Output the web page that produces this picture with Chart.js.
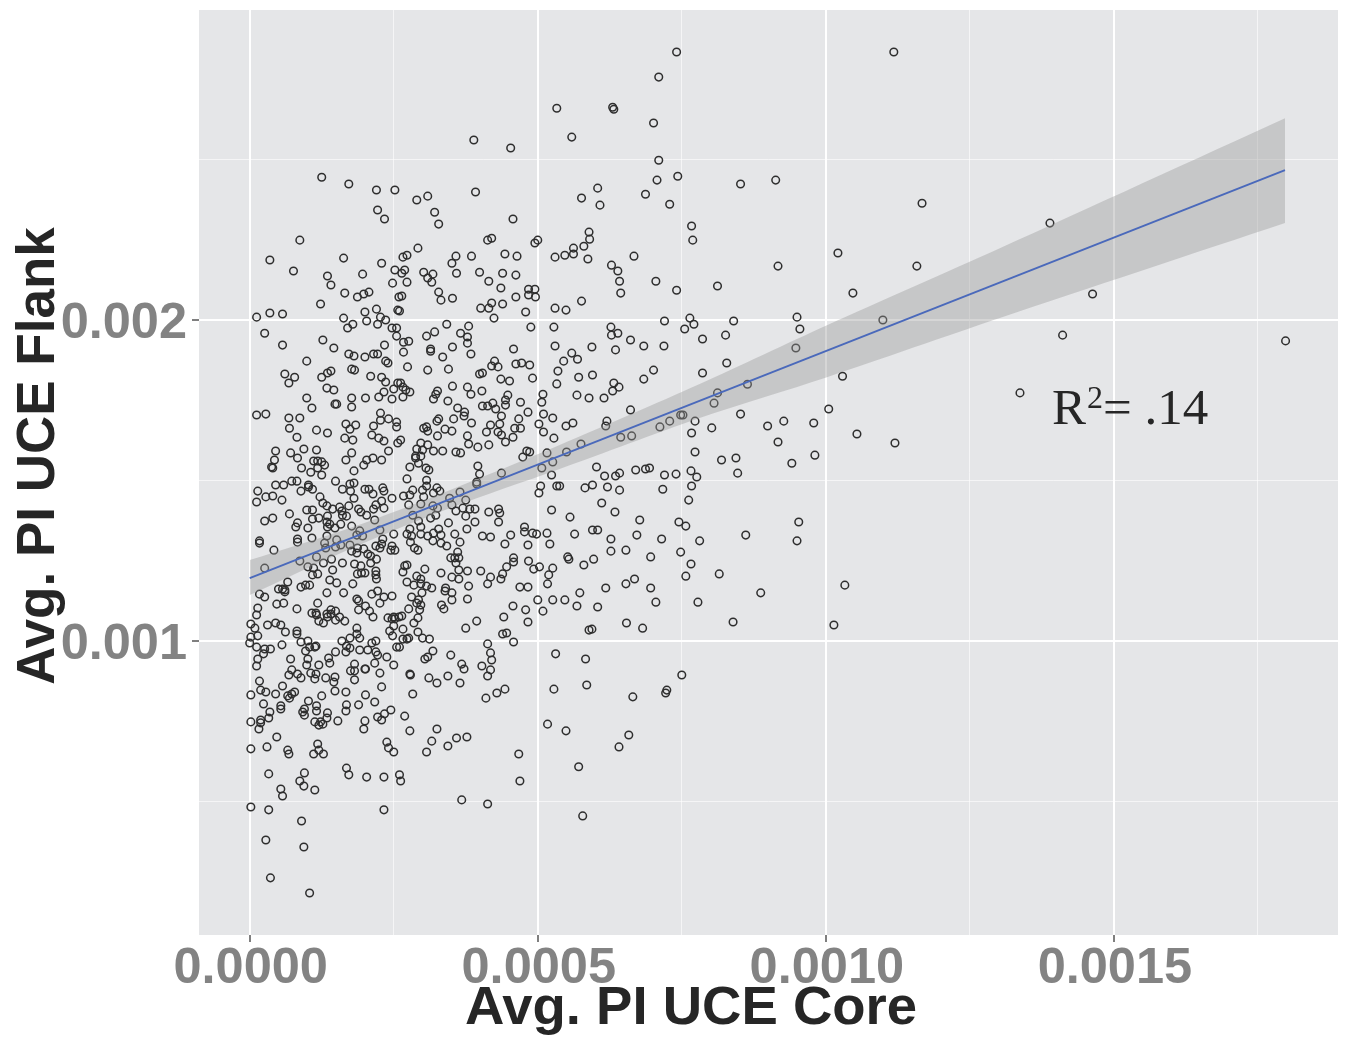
<!DOCTYPE html>
<html lang="en">
<head>
<meta charset="UTF-8">
<title>Avg. PI UCE Core vs Flank</title>
<script src="https://cdn.jsdelivr.net/npm/chart.js@4/dist/chart.umd.min.js"></script>
<style>
    body { margin: 0; padding: 0; background: #fff; }
    #chartBox { position: relative; width: 1345px; height: 1038px; }
</style>
</head>
<body>
<div id="chartBox"><canvas id="scatter" width="1345" height="1038"></canvas></div>
<script>
// All PI values below are in units of 1e-6
const xMajorTicks = [0, 500, 1000, 1500];
const xMinorTicks = [250, 750, 1250, 1750];
const xTickLabels = ['0.0000', '0.0005', '0.0010', '0.0015'];
const yMajorTicks = [1000, 2000];
const yMinorTicks = [500, 1500, 2500];
const yTickLabels = ['0.001', '0.002'];

// upper left
const coreA = [125,172,220,252,222,234,87,35,163,76,
    135,141,229,196,252,248,165,187,198,207,
    123,12,35,57,163,200,203,220,227,236,
    222,179,170,247,257,255,26,57,127,146,
    234,255,259];
const flankA = [2445,2424,2405,2405,2343,2315,2249,2187,2193,2153,
    2137,2109,2177,2143,2156,2115,2084,2072,2081,2087,
    2050,2009,2022,2019,2006,2025,1997,2034,2009,2000,
    1987,1987,1975,1975,2031,1950,1959,1922,1938,1913,
    1922,1975,2072];

// left, just above the fit line
const coreB = [99,172,181,200,215,222,236,240,
    61,78,68,125,135,141,177,182,210,229,236,
    134,146,250,257,233,224,247,201,177,99,148,151,177,108,
    12,28,68,87,227,227,241,255,255,167,184,174,215,69,116,135,82,165,179,212,224,233,257,241,
    45,94,116,71,83,43,177,167,229,214,203,198,111,118,125,130,38,40,90,118,106,125,181,
    149,73,82,45,59,14,102,102,109,89,181,174,161,175,200,207,214,231,233,247,181,
    40,28,56,12,122,127,134,229,219,215,233,172,156,144,160,189,193,203,99,109,69,161,168,135,120,109,217,40,26,
    134,83,139,80,101,135,148,158,177,191,226,250,134,108,83,186,196,231,17,151];
const flankB = [1872,1894,1888,1885,1894,1894,1872,1866,
    1832,1822,1804,1822,1835,1841,1847,1844,1825,1822,1807,
    1788,1782,1785,1804,1776,1760,1754,1757,1757,1757,1738,1738,1729,1726,
    1704,1707,1695,1695,1710,1688,1692,1682,1667,1676,1673,1660,1670,1663,1657,1648,1635,1632,1626,1642,1632,1623,1617,1592,
    1592,1598,1595,1586,1570,1564,1586,1564,1564,1570,1564,1548,1561,1561,1558,1548,1542,1539,1539,1539,1526,1517,1530,
    1498,1498,1498,1486,1486,1467,1486,1480,1473,1467,1492,1489,1473,1467,1473,1473,1458,1477,1467,1445,1445,
    1452,1449,1439,1433,1449,1430,1421,1436,1424,1411,1414,1421,1417,1411,1405,1411,1402,1392,1408,1408,1396,1392,1389,1389,1383,1380,1377,1383,1374,
    1371,1368,1364,1355,1352,1355,1352,1364,1358,1343,1346,1333,1327,1321,1318,1330,1327,1318,1312,1315];

// left, below the fit line
const coreC = [17,42,83,130,132,149,158,174,177,186,187,198,205,210,219,226,229,247,245,252,
    116,87,128,142,161,182,193,210,220,26,101,111,144,219,219,220,200,194,187,118,109,
    66,139,151,179,50,57,61,61,89,97,104,222,134,163,212,233,247,17,26,186,189,
    118,47,59,226,201,14,82,189,208,141,149,108,115,116,134,141,12,214,240,250,247,252,259,
    120,135,156,149,165,128,45,31,54,2,9,62,186,250,243,82,82,186,191,248,2,14,
    0,101,89,160,174,219,212,12,56,115,113,104,168,174,36,26,24,255,97,149,167,191,205,219,222,238,
    14,71,101,137,139,12,99,120,182,217,250,73,175,182,200,201,226,68,83,89,106,115,113,132,148,146,182,
    17,57,229,19,28,148,167,2,45,78,73,66,69,125,201,217,24,102,168,189,54,54,116,116,167,245,
    95,92,95,35,135,234,222,134,33,19,19,2,229,153,200,113,123,127,120,16,198];
const flankC = [1305,1283,1308,1305,1290,1293,1299,1299,1280,1274,1290,1287,1271,1265,1296,1290,1302,1296,1283,1283,
    1262,1249,1243,1255,1243,1240,1234,1243,1255,1227,1231,1227,1221,1218,1206,1193,1212,1212,1209,1209,1206,
    1184,1190,1181,1178,1162,1162,1159,1153,1168,1174,1174,1156,1150,1150,1146,1137,1140,1146,1137,1131,1125,
    1118,1115,1118,1118,1109,1103,1100,1097,1093,1097,1093,1087,1087,1081,1084,1084,1081,1075,1072,1075,1069,1069,1075,
    1062,1075,1075,1065,1062,1056,1056,1050,1050,1053,1040,1028,1040,1047,1031,1031,1022,1022,1009,1016,1012,1016,
    994,1000,997,1000,1009,1000,994,981,988,984,981,981,984,978,975,975,960,981,969,966,966,972,972,966,956,950,
    944,944,944,947,931,922,925,925,928,931,925,910,907,907,913,913,900,894,897,885,900,897,882,885,888,872,879,
    875,860,857,847,841,844,841,832,835,841,835,829,822,829,832,810,804,813,801,801,798,788,798,782,782,785,
    788,779,769,779,776,773,763,760,760,754,745,748,754,751,751,748,748,741,738,726,726];

// middle, around the fit line
const coreD = [267,314,335,384,274,309,345,425,420,431,462,472,486,491,399,404,436,451,535,533,
    262,266,271,278,266,352,378,384,403,326,323,319,344,448,444,444,470,509,507,
    361,373,372,404,413,422,427,483,510,437,526,467,328,325,354,385,418,434,502,
    307,302,309,339,351,460,470,411,431,437,510,378,326,457,444,528,262,297,309,380,396,415,
    290,300,319,335,358,366,481,486,474,516,288,297,288,526,293,396,278,306,311,507,
    399,437,524,273,307,394,394,505,533,307,283,300,325,319,330,365,502,267,278,302,347,375,
    276,297,318,351,326,370,382,391,358,432,434,415,524,283,323,314,375,293,391,432,345,
    297,278,328,377,477,477,273,281,297,309,319,332,356,404,418,453,491,498,516];
const flankD = [1900,1903,1885,1894,1854,1844,1847,1872,1857,1854,1863,1866,1860,1819,1832,1835,1816,1810,1841,1801,
    1804,1791,1782,1776,1760,1794,1791,1769,1779,1779,1769,1754,1748,1766,1751,1735,1744,1769,1744,
    1726,1713,1701,1732,1732,1741,1723,1713,1707,1701,1695,1692,1692,1685,1692,1679,1673,1676,1676,
    1667,1663,1654,1660,1654,1663,1663,1651,1651,1642,1651,1639,1639,1635,1620,1632,1626,1617,1611,1614,1604,1611,
    1598,1595,1592,1592,1589,1586,1592,1589,1573,1586,1576,1576,1570,1558,1554,1545,1542,1539,1533,1539,
    1520,1523,1517,1505,1501,1495,1489,1483,1483,1483,1470,1470,1477,1461,1467,1464,1461,1452,1455,1449,1445,1439,
    1424,1427,1421,1424,1414,1414,1411,1411,1405,1411,1399,1402,1408,1392,1392,1383,1389,1374,1371,1371,1368,
    1355,1349,1349,1349,1355,1340,1333,1327,1333,1327,1336,1330,1333,1327,1324,1330,1336,1333,1336];

// middle, below the fit line
const coreE = [279,286,292,318,332,342,365,443,483,521,361,349,356,363,358,458,458,484,446,503,493,526,
    273,269,266,304,332,363,378,401,439,519,290,297,351,363,418,436,413,517,273,285,297,307,316,380,469,483,340,339,351,299,
    281,351,378,500,526,293,290,297,333,337,457,479,509,276,295,264,441,292,285,394,483,375,266,292,446,439,
    276,266,273,300,312,458,413,260,318,349,418,531,309,304,420,368,372,403,418,278,279,344,413,311,325,365,
    443,429,410,528,283,269,517,325,278];
const flankE = [1308,1290,1283,1312,1305,1296,1308,1302,1299,1302,1277,1259,1259,1259,1243,1259,1246,1249,1231,1231,1224,1227,
    1237,1234,1215,1224,1212,1221,1218,1218,1209,1206,1202,1193,1199,1193,1199,1193,1178,1178,1184,1174,1178,1171,1165,1171,1168,1168,1165,1156,1150,1150,
    1137,1128,1131,1128,1128,1128,1118,1112,1112,1100,1109,1097,1093,1100,1097,1078,1075,1072,1056,1062,1059,1040,1037,1028,1025,1022,
    1009,1006,1006,1009,1006,997,991,981,969,956,963,960,950,944,941,928,913,922,910,897,894,891,891,885,869,869,
    850,838,822,850,835,766,741,726,720];

// upper middle
const coreF = [392,309,290,321,328,457,420,413,500,495,292,273,266,358,351,385,443,464,530,
    269,264,302,318,309,316,359,399,439,462,273,415,436,328,332,352,484,495,484,496,462,264,
    420,439,401,415,260,479,530,424,342,380,488,528,321,366,378,307,378,276,267,530,352,314,458,
    389,453,533,559,630,632];
const flankF = [2399,2386,2374,2336,2299,2315,2255,2249,2249,2240,2224,2202,2196,2199,2177,2199,2206,2199,2196,
    2156,2146,2149,2143,2131,2118,2146,2149,2146,2140,2118,2121,2100,2087,2062,2068,2096,2096,2078,2072,2072,2075,
    2053,2050,2037,2037,2028,2025,2037,2006,1987,1981,1978,1978,1963,1959,1947,1950,1928,1934,1931,1919,1916,1910,1910,
    2561,2536,2660,2570,2663,2657];

// centre right, band region
const coreG = [559,545,569,701,786,571,595,684,632,641,630,568,589,615,812,806,661,773,748,752,729,712,802,767,
    561,549,620,618,644,663,575,550,773,602,616,635,642,670,687,694,720,740,766,776,767,595,582,621,642,717,762,
    611,634,556,677,745,757,564,595,604,672,627,715,781,538];
const flankG = [1897,1872,1878,1844,1835,1822,1829,1816,1804,1791,1779,1766,1757,1757,1773,1741,1720,1685,1704,1704,1685,1667,1664,1648,
    1679,1670,1685,1670,1635,1639,1614,1589,1589,1542,1514,1514,1523,1533,1536,1539,1517,1520,1530,1511,1483,1486,1477,1480,1470,1473,1439,
    1430,1402,1386,1377,1371,1358,1333,1346,1346,1330,1318,1318,1312,1483];

// bottom left
const coreH = [47,2,30,66,68,118,111,120,128,238,241,250,316,307,344,359,377,
    33,95,87,94,113,54,57,168,172,203,233,260,262,2,33,233,368,90,28,94,36,104,
    413,467,469,549,571,578,583,585,641,658,665,724,722,750];
const flankH = [701,664,670,660,648,679,648,660,648,685,667,654,688,654,673,698,701,
    586,589,564,548,536,539,517,604,583,576,576,583,564,483,474,474,505,439,380,358,262,215,
    492,648,564,720,608,455,944,863,670,707,826,847,838,894];

// upper right of the cloud
const coreI = [743,707,604,576,608,687,729,767,769,589,590,580,562,562,547,587,667,628,639,642,644,705,741,812,
    576,549,720,764,771,755,786,627,639,628,661,684,719,594,635,741,710,701,710,
    627,653,748,552,554,597,580,696,766,757,815,668,653,618,696,573,547,568,604,705,778,654,682,594,589];
const flankI = [2448,2436,2411,2380,2358,2392,2361,2293,2249,2274,2252,2230,2224,2206,2202,2190,2199,2171,2153,2121,2084,2121,2093,2106,
    2059,2031,1997,2006,1987,1972,1941,1978,1959,1953,1938,1919,1919,1916,1907,2835,2757,2614,2498,
    1280,1283,1277,1262,1255,1255,1237,1262,1240,1202,1209,1193,1178,1165,1165,1150,1128,1109,1106,1121,1121,1056,1040,1037,1034];

// sparse points on the far right
const coreJ = [1118,913,852,1167,1389,1021,1158,917,1047,1463,1099,950,955,948,1411,1798,840,826,828,864,1029,
    1337,1005,852,899,927,979,1054,1120,917,981,941,819,844,847,953,950,861,887,1033,839,1014];
const flankJ = [2835,2436,2424,2364,2302,2209,2168,2168,2084,2081,2000,2009,1972,1913,1953,1935,1997,1953,1866,1800,1825,
    1773,1723,1707,1670,1685,1679,1645,1617,1620,1579,1554,1564,1570,1523,1371,1312,1330,1150,1174,1059,1050];

// fit line and its confidence band
const fitCore = [0, 1797];
const fitFlank = [1196, 2467];
const bandCore = [0, 174, 347, 538, 781, 1002, 1302, 1797];
const bandUpper = [1252, 1352, 1470, 1611, 1801, 1984, 2224, 2629];
const bandLower = [1143, 1287, 1414, 1536, 1695, 1822, 2006, 2302];

const coreValues = [...coreA, ...coreB, ...coreC, ...coreD, ...coreE, ...coreF, ...coreG, ...coreH, ...coreI, ...coreJ];
const flankValues = [...flankA, ...flankB, ...flankC, ...flankD, ...flankE, ...flankF, ...flankG, ...flankH, ...flankI, ...flankJ];

const pair = (xs, ys) => xs.map((x, i) => ({ x: x, y: ys[i] }));

// panel background
const panelBackground = {
    id: 'panelBackground',
    beforeDraw(chart) {
        const a = chart.chartArea;
        chart.ctx.save();
        chart.ctx.fillStyle = '#e5e6e8';
        chart.ctx.fillRect(a.left, a.top, a.width, a.height);
        chart.ctx.restore();
    }
};

// axis titles sit off centre in the original, so they are placed by hand
const chartTexts = {
    id: 'chartTexts',
    afterDraw(chart) {
        const ctx = chart.ctx;
        ctx.save();
        ctx.fillStyle = '#262626';
        ctx.textAlign = 'center';
        ctx.textBaseline = 'middle';
        ctx.font = 'bold 54.5px "Liberation Sans", Arial, sans-serif';
        ctx.fillText('Avg. PI UCE Core', 691, 1009);
        ctx.font = 'bold 53px "Liberation Sans", Arial, sans-serif';
        ctx.translate(39, 456);
        ctx.rotate(-Math.PI / 2);
        ctx.fillText('Avg. PI UCE Flank', 0, 0);
        ctx.restore();
        // R squared label, the superscript is larger than the font's own glyph
        ctx.save();
        ctx.fillStyle = '#262626';
        ctx.textAlign = 'left';
        ctx.textBaseline = 'alphabetic';
        ctx.font = '51px "Liberation Serif", "Times New Roman", serif';
        ctx.fillText('R', 1052, 424);
        ctx.fillText('= .14', 1103, 424);
        ctx.font = '32px "Liberation Serif", "Times New Roman", serif';
        ctx.fillText('2', 1087, 408);
        ctx.restore();
    }
};

function axisOptions(major, minor, labels, min, max, pad, shift, fit) {
    const isMajor = v => major.includes(v);
    return {
        type: 'linear',
        min: min,
        max: max,
        afterBuildTicks(scale) {
            scale.ticks = [...major, ...minor].sort((a, b) => a - b).map(v => ({ value: v }));
        },
        afterFit: fit,
        border: { display: false },
        grid: {
            color: ctx => isMajor(ctx.tick.value) ? '#ffffff' : 'rgba(255,255,255,0.6)',
            lineWidth: ctx => isMajor(ctx.tick.value) ? 2 : 1,
            tickColor: ctx => isMajor(ctx.tick.value) ? '#7f7f7f' : 'rgba(0,0,0,0)',
            tickLength: 7,
            tickWidth: 2
        },
        ticks: {
            autoSkip: false,
            maxRotation: 0,
            minRotation: 0,
            padding: pad,
            labelOffset: shift,
            color: '#838383',
            font: { family: '"Liberation Sans", Arial, sans-serif', size: 50.5, weight: 'bold' },
            callback: v => isMajor(v) ? labels[major.indexOf(v)] : ''
        }
    };
}

// fixed box sizes, and no extra room for labels that overhang the axis ends
function fitX(s) {
    s.height = 103;
    s.paddingLeft = 0;
    s.paddingRight = 0;
}
function fitY(s) {
    s.width = 199;
    s.paddingTop = 0;
    s.paddingBottom = 0;
}

new Chart(document.getElementById('scatter'), {
    data: {
        datasets: [
            {
                type: 'line',
                data: pair(fitCore, fitFlank),
                borderColor: '#4a69bb',
                borderWidth: 1.9,
                pointRadius: 0,
                order: 0
            },
            {
                type: 'line',
                data: pair(bandCore, bandUpper),
                borderWidth: 0,
                pointRadius: 0,
                tension: 0.3,
                fill: '+1',
                backgroundColor: 'rgba(153,153,153,0.4)',
                order: 1
            },
            {
                type: 'line',
                data: pair(bandCore, bandLower),
                borderWidth: 0,
                pointRadius: 0,
                tension: 0.3,
                order: 1
            },
            {
                type: 'scatter',
                data: pair(coreValues, flankValues),
                pointRadius: 3.8,
                pointBorderWidth: 1.5,
                pointBorderColor: '#2e2e2e',
                pointBackgroundColor: 'rgba(0,0,0,0)',
                order: 2
            }
        ]
    },
    options: {
        responsive: false,
        animation: false,
        layout: { padding: { top: 10, right: 7 } },
        plugins: { legend: { display: false }, tooltip: { enabled: false } },
        scales: {
            x: axisOptions(xMajorTicks, xMinorTicks, xTickLabels, -88, 1889, -3, 1, fitX),
            y: axisOptions(yMajorTicks, yMinorTicks, yTickLabels, 84, 2966, 5, 4, fitY)
        }
    },
    plugins: [panelBackground, chartTexts]
});
</script>
</body>
</html>
